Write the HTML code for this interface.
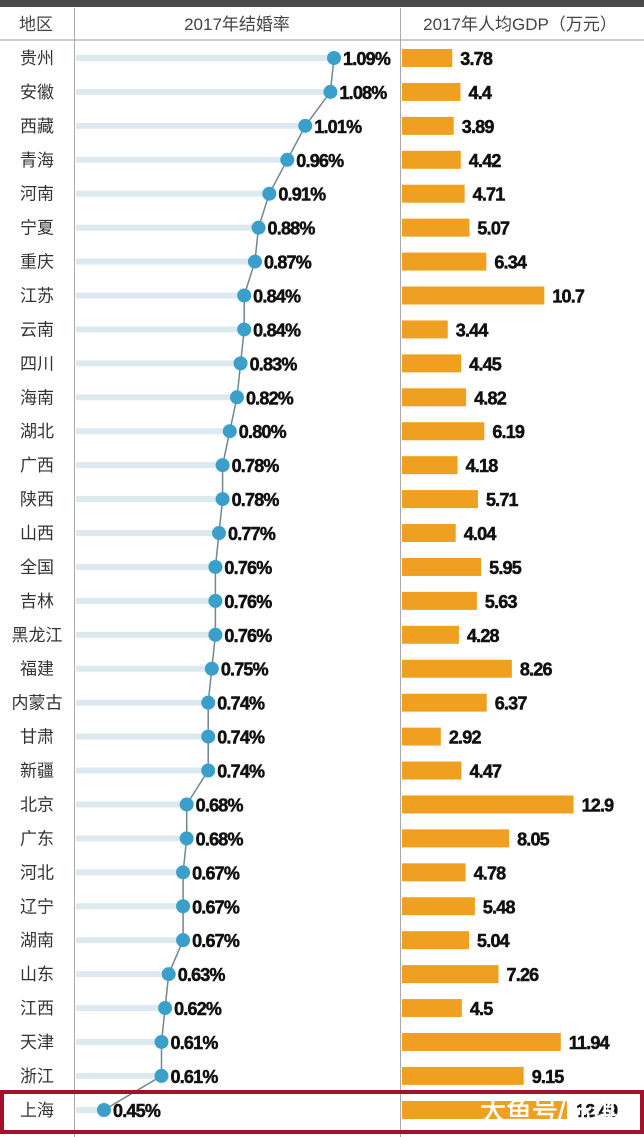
<!DOCTYPE html>
<html><head><meta charset="utf-8">
<style>
html,body{margin:0;padding:0;background:#fff;}
svg{display:block;}
.cn{font-family:"Liberation Sans","Noto Sans CJK SC",sans-serif;}
.num{font-family:"Liberation Sans",sans-serif;font-weight:bold;}
</style></head>
<body>
<svg id="chart" width="644" height="1137" viewBox="0 0 644 1137" xmlns="http://www.w3.org/2000/svg">
<rect x="0" y="0" width="644" height="7" fill="#4a4a4a"/>
<text x="36" y="30" font-size="17" fill="#444" text-anchor="middle" class="cn">地区</text>
<text x="237" y="30" font-size="17" fill="#444" text-anchor="middle" class="cn">2017年结婚率</text>
<text x="520" y="30" font-size="17" fill="#444" text-anchor="middle" class="cn">2017年人均GDP（万元）</text>
<line x1="0" y1="40" x2="644" y2="40" stroke="#999" stroke-width="1"/>
<line x1="74.5" y1="8" x2="74.5" y2="1137" stroke="#aaa" stroke-width="1"/>
<line x1="400.5" y1="8" x2="400.5" y2="1137" stroke="#aaa" stroke-width="1"/>
<g id="rows"></g>
<rect x="2" y="1092" width="640" height="40" fill="none" stroke="#a3122a" stroke-width="4"/>
<text x="480" y="1120" font-size="26" fill="#fff" stroke="#fff" stroke-width="0.6" class="cn">大鱼号/陆琪</text>
</svg>
<script>
const regions=["贵州","安徽","西藏","青海","河南","宁夏","重庆","江苏","云南","四川","海南","湖北","广西","陕西","山西","全国","吉林","黑龙江","福建","内蒙古","甘肃","新疆","北京","广东","河北","辽宁","湖南","山东","江西","天津","浙江","上海"];
const rates=[1.09,1.08,1.01,0.96,0.91,0.88,0.87,0.84,0.84,0.83,0.82,0.80,0.78,0.78,0.77,0.76,0.76,0.76,0.75,0.74,0.74,0.74,0.68,0.68,0.67,0.67,0.67,0.63,0.62,0.61,0.61,0.45];
const gdp=[3.78,4.4,3.89,4.42,4.71,5.07,6.34,10.7,3.44,4.45,4.82,6.19,4.18,5.71,4.04,5.95,5.63,4.28,8.26,6.37,2.92,4.47,12.9,8.05,4.78,5.48,5.04,7.26,4.5,11.94,9.15,12.49];
const rateLabels=["1.09%","1.08%","1.01%","0.96%","0.91%","0.88%","0.87%","0.84%","0.84%","0.83%","0.82%","0.80%","0.78%","0.78%","0.77%","0.76%","0.76%","0.76%","0.75%","0.74%","0.74%","0.74%","0.68%","0.68%","0.67%","0.67%","0.67%","0.63%","0.62%","0.61%","0.61%","0.45%"];
const gdpLabels=["3.78","4.4","3.89","4.42","4.71","5.07","6.34","10.7","3.44","4.45","4.82","6.19","4.18","5.71","4.04","5.95","5.63","4.28","8.26","6.37","2.92","4.47","12.9","8.05","4.78","5.48","5.04","7.26","4.5","11.94","9.15","12.49"];

const NS="http://www.w3.org/2000/svg";
const g=document.getElementById('rows');
const yOf=i=>i<31?58+i*33.93:1110;
const xRate=v=>104+(v-0.45)*359.4;
const xGdp=v=>402+v*13.3;
function mk(tag,attrs){const e=document.createElementNS(NS,tag);for(const k in attrs)e.setAttribute(k,attrs[k]);g.appendChild(e);return e;}
regions.forEach((r,i)=>{
  const y=yOf(i);
  const t=mk('rect',{x:76,y:y-3,width:Math.max(0,xRate(rates[i])-76),height:6,fill:'#dde9f1'});
  
  
  const lb=mk('text',{x:37,y:y+6,'font-size':17,fill:'#333','text-anchor':'middle',class:'cn'});
  lb.textContent=r;
  
  
});
let pts=regions.map((r,i)=>xRate(rates[i]).toFixed(1)+','+yOf(i).toFixed(1)).join(' ');
const pl=mk('polyline',{points:pts,fill:'none',stroke:'#6f8790','stroke-width':1.5});


regions.forEach((r,i)=>{
  const y=yOf(i),x=xRate(rates[i]);
  const c=mk('circle',{cx:x,cy:y,r:7,fill:'#3b9fcb'});
  
  
  const t=mk('text',{x:x+9,y:y+7,'font-size':18,fill:'#111',stroke:'#111','stroke-width':0.5,class:'num','letter-spacing':'-0.8'});
  t.textContent=rateLabels[i];
  
  
  const b=mk('rect',{x:402,y:y-9,width:xGdp(gdp[i])-402,height:18,fill:'#f0a020'});
  
  
  const gt=mk('text',{x:xGdp(gdp[i])+8,y:y+7,'font-size':18,fill:'#111',stroke:'#111','stroke-width':0.5,class:'num','letter-spacing':'-0.8'});
  gt.textContent=gdpLabels[i];
  
  
});
</script>
</body></html>
